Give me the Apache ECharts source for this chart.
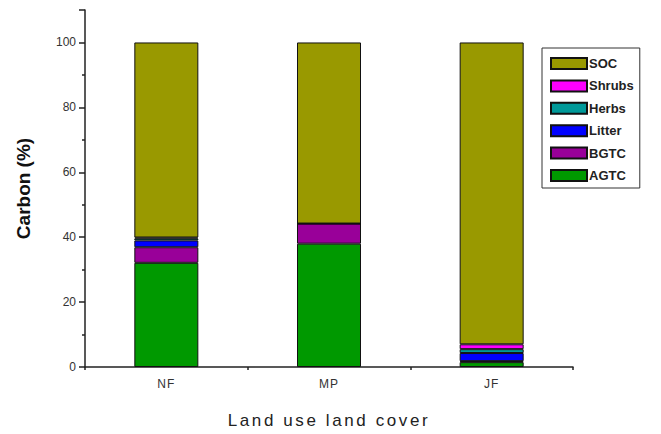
<!DOCTYPE html>
<html>
<head>
<meta charset="utf-8">
<script src="https://cdn.jsdelivr.net/npm/echarts@6/dist/echarts.min.js"></script>
<style>
  html, body { margin: 0; padding: 0; background: #fff; }
  #chart { width: 661px; height: 434px; }
</style>
</head>
<body>
<div id="chart"></div>
<script>
// Land use classes on the x axis
const categories = ['NF', 'MP', 'JF'];

// Share of total carbon (%) held in each pool, per land use class
const agtc   = [32.1, 38.0, 1.5];
const bgtc   = [4.8, 6.2, 0.3];
const litter = [2.1, 0, 2.5];
const herbs  = [0.6, 0, 1.2];
const shrubs = [0.3, 0, 1.5];
const soc    = [60.1, 55.8, 93.0];

const yTicks = [0, 20, 40, 60, 80, 100];

const pools = [
  { name: 'AGTC',   data: agtc,   color: '#009900' },
  { name: 'BGTC',   data: bgtc,   color: '#990099' },
  { name: 'Litter', data: litter, color: '#0000ff' },
  { name: 'Herbs',  data: herbs,  color: '#009999' },
  { name: 'Shrubs', data: shrubs, color: '#ff00ff' },
  { name: 'SOC',    data: soc,    color: '#999900' }
];

const chart = echarts.init(document.getElementById('chart'), null, { renderer: 'svg' });

const font = 'Liberation Sans, Arial, sans-serif';

chart.setOption({
  animation: false,
  backgroundColor: '#ffffff',
  grid: { left: 85, right: 88, top: 10, bottom: 61, containLabel: false },
  legend: {
    orient: 'vertical',
    left: 542,
    top: 48,
    data: pools.map(p => p.name).reverse(),
    itemWidth: 36,
    itemHeight: 11,
    itemGap: 9.4,
    padding: [9, 6, 6, 8],
    borderColor: '#333',
    borderWidth: 1,
    icon: 'rect',
    selectedMode: false,
    textStyle: { fontFamily: font, fontWeight: 'bold', fontSize: 13, color: '#222', padding: [0, 0, 0, -3] }
  },
  xAxis: [
    {
      type: 'category',
      data: categories,
      name: 'Land use land cover',
      nameLocation: 'middle',
      nameGap: 45,
      nameTextStyle: { fontFamily: font, fontSize: 17, color: '#222' },
      axisLine: { lineStyle: { color: '#222', width: 1.5 } },
      axisTick: { alignWithLabel: true, length: 6, lineStyle: { color: '#222', width: 1.5 } },
      axisLabel: { fontFamily: font, fontSize: 12, color: '#333', margin: 11 }
    },
    {
      // boundary ticks between the classes
      type: 'category',
      data: categories,
      position: 'bottom',
      axisLine: { show: false },
      axisTick: { show: true, length: 3, lineStyle: { color: '#222', width: 1.5 } },
      axisLabel: { show: false }
    }
  ],
  yAxis: {
    type: 'value',
    min: 0,
    max: 110,
    interval: 20,
    name: 'Carbon (%)',
    nameLocation: 'middle',
    nameGap: 52,
    nameTextStyle: { fontFamily: font, fontSize: 19, fontWeight: 'bold', color: '#111' },
    axisLine: { show: true, lineStyle: { color: '#222', width: 1.5 } },
    axisTick: { show: true, length: 6, lineStyle: { color: '#222', width: 1.5 } },
    minorTick: { show: true, splitNumber: 2, length: 3, lineStyle: { color: '#222', width: 1.5 } },
    splitLine: { show: false },
    axisLabel: {
      fontFamily: font, fontSize: 12, color: '#333', margin: 9,
      formatter: v => (yTicks.indexOf(v) >= 0 ? String(v) : '')
    }
  },
  series: pools.map(p => ({
    name: p.name,
    type: 'bar',
    stack: 'carbon',
    data: p.data,
    barWidth: 64,
    itemStyle: { color: p.color, borderColor: '#111', borderWidth: 1 }
  }))
});

// widen the letter spacing of the x axis title
document.querySelectorAll('#chart text').forEach(t => {
  if (t.textContent === 'Land use land cover') t.style.letterSpacing = '2.6px';
  if (categories.indexOf(t.textContent) >= 0) t.style.letterSpacing = '1px';
});
</script>
</body>
</html>
